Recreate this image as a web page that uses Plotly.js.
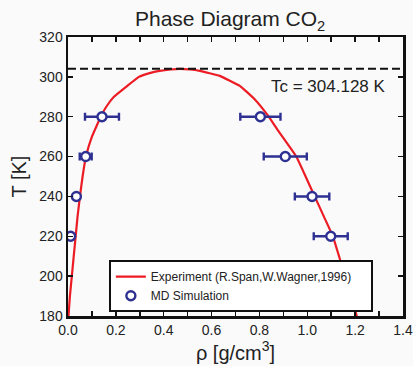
<!DOCTYPE html>
<html>
<head>
<meta charset="utf-8">
<script src="https://cdn.plot.ly/plotly-3.0.1.min.js"></script>
<style>html,body{margin:0;padding:0;background:#fafafa;}#chart{width:413px;height:366px;}</style>
</head>
<body>
<div id="chart"></div>
<script>
// Experimental coexistence curve (R.Span, W.Wagner, 1996)
const rhoExp = [0.002, 0.008, 0.016, 0.024, 0.032, 0.040, 0.050, 0.061, 0.075, 0.100, 0.118, 0.137, 0.160, 0.192, 0.248, 0.296, 0.317, 0.345, 0.383, 0.430, 0.467, 0.510, 0.551, 0.634, 0.718, 0.780, 0.836, 0.878, 0.954, 0.993, 1.031, 1.069, 1.107, 1.142, 1.170, 1.207];
const TExp   = [180,   190,   200,   210,   220,   230,   240,   250,   260,   270,   275,   280,   285,   290,   295.5, 300,   301,   302,   303,   303.7, 304.0, 303.7, 303,   300.5, 295.5, 288.8, 280.5, 273,   260,   250,   240,   230,   220,   206.3, 195,   180];
// MD simulation points
const rhoMD = [0.142, 0.074, 0.035, 0.011, 0.804, 0.908, 1.020, 1.098];
const TMD   = [280,   260,   240,   220,   280,   260,   240,   220];
const errMD = [0.071, 0.025, 0.0,   0.0,   0.084, 0.09,  0.072, 0.071];
const Tc = 304.128;
const xTicks = [0.0, 0.2, 0.4, 0.6, 0.8, 1.0, 1.2, 1.4];
const yTicks = [180, 200, 220, 240, 260, 280, 300, 320];

const font = "Liberation Sans, Arial, Helvetica, sans-serif";
const red = "#ec1c24";
const blue = "#2e3192";

const traces = [
  {x: rhoExp, y: TExp, type: "scatter", mode: "lines", name: "Experiment (R.Span,W.Wagner,1996)",
   line: {color: red, width: 2.2, shape: "spline", smoothing: 0.3}},
  {x: rhoMD, y: TMD, type: "scatter", mode: "markers", name: "MD Simulation",
   marker: {symbol: "circle", size: 9, color: "white", line: {color: blue, width: 2.4}},
   error_x: {type: "data", array: errMD, visible: true, color: blue, thickness: 2.4, width: 4}}
];

const layout = {
  width: 413, height: 366,
  paper_bgcolor: "#fafafa", plot_bgcolor: "#fafafa",
  margin: {l: 68, r: 10, t: 37, b: 50},
  font: {family: font, color: "#222", size: 14},
  title: {text: "Phase Diagram CO<sub>2</sub>", font: {family: font, size: 21, color: "#222"},
          x: 0.484, xanchor: "center", xref: "paper", y: 1 - 19/366, yanchor: "middle", yref: "container"},
  xaxis: {range: [0, 1.4], tickvals: xTicks, tickformat: ".1f", ticks: "inside", ticklen: 5, tickwidth: 1.5,
          tickcolor: "#111", showline: true, linecolor: "#111", linewidth: 2.5, mirror: "allticks",
          showgrid: false, zeroline: false, tickfont: {size: 14, color: "#222"},
          minor: {dtick: 0.1, tick0: 0, ticks: "inside", ticklen: 5, tickwidth: 1.5, tickcolor: "#111"},
          title: {text: "ρ [g/cm<sup>3</sup>]", font: {size: 20, color: "#222"}, standoff: 4}},
  yaxis: {range: [180, 320], tickvals: yTicks, ticks: "inside", ticklen: 5, tickwidth: 1.5,
          tickcolor: "#111", showline: true, linecolor: "#111", linewidth: 2.5, mirror: "allticks",
          showgrid: false, zeroline: false, tickfont: {size: 14, color: "#222"},
          title: {text: "T [K]", font: {size: 20, color: "#222"}, standoff: 8}},
  shapes: [{type: "line", xref: "paper", x0: 0, x1: 1, yref: "y", y0: Tc, y1: Tc,
            line: {color: "#111", width: 2, dash: "8px,4px"}}],
  annotations: [{xref: "x", yref: "y", x: 1.336, y: 295, xanchor: "right", yanchor: "middle",
                 text: "Tc = " + Tc + " K", showarrow: false, font: {size: 17, color: "#222"}}],
  showlegend: true,
  legend: {x: 0.122, y: 0.2, xanchor: "left", yanchor: "top", bgcolor: "white",
           orientation: "h", bordercolor: "#111", borderwidth: 2, font: {size: 12, color: "#222"},
           tracegroupgap: 0, itemwidth: 30, entrywidth: 215, entrywidthmode: "pixels"}
};

Plotly.newPlot("chart", traces, layout, {displayModeBar: false, staticPlot: true});
</script>
</body>
</html>
